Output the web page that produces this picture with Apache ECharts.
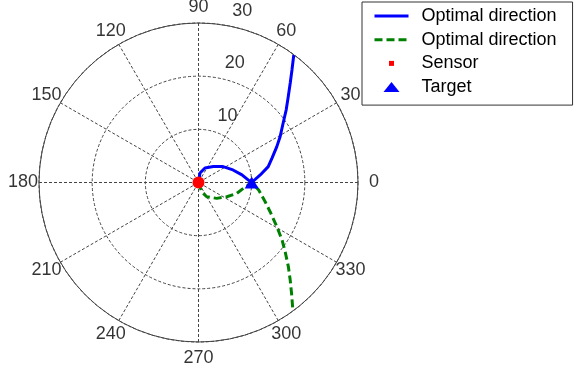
<!DOCTYPE html>
<html>
<head>
<meta charset="utf-8">
<script src="https://cdn.jsdelivr.net/npm/echarts@6/dist/echarts.min.js"></script>
<style>
  html, body { margin: 0; padding: 0; background: #fff; }
  #chart { width: 576px; height: 373px; }
</style>
</head>
<body>
<div id="chart"></div>
<script>
// Polar tick labels
const angleTicks = [0, 30, 60, 90, 120, 150, 180, 210, 240, 270, 300, 330];
const radiusTicks = [10, 20, 30];

// Outward optimal path (radius, angle in degrees)
const outR     = [0, 1.8, 3.0, 4.1, 5.5, 6.9, 8.3, 9.35, 10, 11.7, 13.45, 14.6, 16.2, 17.6, 19.5, 21.4, 23.4, 25.5, 27.6, 30];
const outTheta = [90, 81, 66, 47, 33, 20, 10, 3, 0, 7, 12.8, 18.5, 24.6, 29.3, 35.2, 39.6, 43.8, 47.4, 50.4, 53.3];

// Return optimal path (radius, angle in degrees)
const backR     = [0, 1.85, 3.1, 4.55, 5.95, 7.5, 8.5, 9.4, 10, 11.4, 13.05, 14.55, 16.95, 19.1, 20.9, 23.2, 25.2, 27.3, 30];
const backTheta = [270, 289, 300, 319, 333.3, 344.2, 352.6, 357.1, 360, 352.9, 343.9, 337.8, 330.5, 325.4, 321.3, 316.8, 313.2, 309.9, 306.3];

// Point markers [radius, angle]
const sensorPos = [0, 0];
const targetPos = [10, 0];

const FONT = 'Liberation Sans';
const OUT_NAME = 'Optimal direction (outward)';
const BACK_NAME = 'Optimal direction (return)';
const LABEL_RADIUS = 33;   // angle labels sit at 1.1 x outer radius
const RADIUS_LABEL_ANGLE = 82;

const zip = (r, t) => r.map((v, i) => [v, t[i]]);

const gridLine = { color: '#444', width: 1, type: [3, 2] };

const chart = echarts.init(document.getElementById('chart'), null, { renderer: 'canvas' });
chart.setOption({
  animation: false,
  polar: { center: [198.5, 182.5], radius: 159.5 },
  angleAxis: {
    type: 'value', min: 0, max: 360, interval: 30,
    startAngle: 0, clockwise: false,
    axisLine: { show: true, lineStyle: { color: '#444', width: 1 } },
    axisTick: { show: false },
    axisLabel: { show: false },
    splitLine: { show: true, lineStyle: gridLine }
  },
  radiusAxis: {
    type: 'value', min: 0, max: 30, interval: 10,
    axisLine: { show: false },
    axisTick: { show: false },
    axisLabel: { show: false },
    splitLine: { show: true, lineStyle: gridLine }
  },
  legend: {
    orient: 'vertical',
    left: 362, top: 2,
    padding: [5, 16, 9, 11],
    itemGap: 5.7,
    itemWidth: 34, itemHeight: 14,
    borderColor: '#333', borderWidth: 1,
    backgroundColor: '#fff',
    selectedMode: false,
    lineStyle: { width: 3 },
    textStyle: { fontFamily: FONT, fontSize: 18, color: '#000', padding: [0, 0, 0, 8] },
    formatter: name => (name.indexOf('Optimal direction') === 0 ? 'Optimal direction' : name),
    data: [
      { name: OUT_NAME, itemStyle: { opacity: 0 } },
      { name: BACK_NAME, itemStyle: { opacity: 0 } },
      { name: 'Sensor', icon: 'path://M0,0M34,14M14.5,4.5h5v5h-5z', itemStyle: { opacity: 1 } },
      { name: 'Target', icon: 'path://M0,0M34,14M9,12L17,2L25,12Z', itemStyle: { opacity: 1 } }
    ]
  },
  series: [
    {
      name: OUT_NAME, type: 'line', coordinateSystem: 'polar', z: 2,
      data: zip(outR, outTheta), symbol: 'none', silent: true,
      lineStyle: { color: '#0000ff', width: 3 }, itemStyle: { color: '#0000ff' }
    },
    {
      name: BACK_NAME, type: 'line', coordinateSystem: 'polar', z: 2,
      data: zip(backR, backTheta), symbol: 'none', silent: true,
      lineStyle: { color: '#008000', width: 3, type: [8, 4] }, itemStyle: { color: '#008000' }
    },
    {
      name: 'Sensor', type: 'scatter', coordinateSystem: 'polar', z: 4,
      data: [sensorPos], symbol: 'circle', symbolSize: 12, silent: true,
      itemStyle: { color: '#ff0000', opacity: 1 }
    },
    {
      name: 'Target', type: 'scatter', coordinateSystem: 'polar', z: 4,
      data: [targetPos], symbol: 'triangle', symbolSize: [14, 12], silent: true,
      itemStyle: { color: '#0000ff', opacity: 1 }
    },
    {
      name: 'angle labels', type: 'scatter', coordinateSystem: 'polar',
      data: angleTicks.map(a => [LABEL_RADIUS, a]), symbolSize: 0, clip: false, silent: true,
      label: {
        show: true, position: 'inside', formatter: p => String(p.value[1]),
        fontFamily: FONT, fontSize: 18, color: '#000', align: 'center', verticalAlign: 'middle'
      }
    },
    {
      name: 'radius labels', type: 'scatter', coordinateSystem: 'polar',
      data: radiusTicks.map(r => [r, RADIUS_LABEL_ANGLE]), symbolSize: 0, clip: false, silent: true,
      label: {
        show: true, position: 'inside', formatter: p => String(p.value[0]),
        fontFamily: FONT, fontSize: 18, color: '#000', align: 'left', verticalAlign: 'bottom',
        offset: [11.5, -5]
      }
    }
  ]
});
</script>
</body>
</html>
